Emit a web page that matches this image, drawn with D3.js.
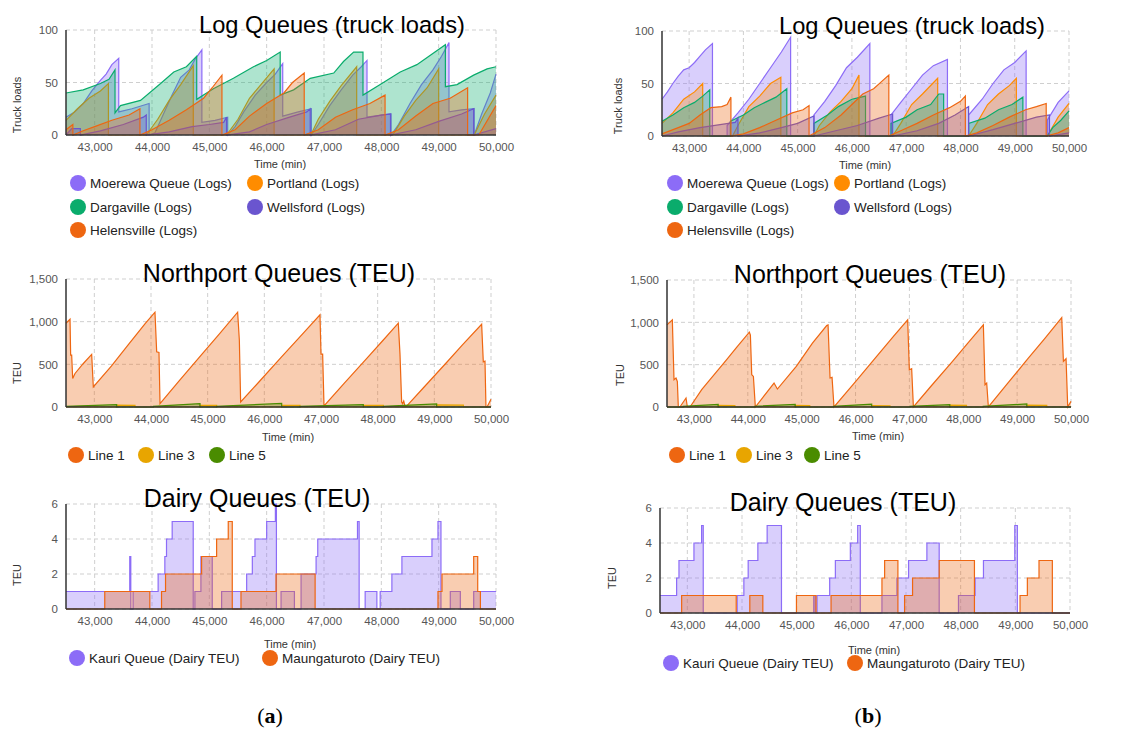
<!DOCTYPE html>
<html>
<head>
<meta charset="utf-8">
<script src="https://cdn.jsdelivr.net/npm/d3@7"></script>
<style>
  body { margin: 0; background: #fff; }
  text { font-family: "Liberation Sans", Arial, sans-serif; }
</style>
</head>
<body>
<script>
// ---- shared axis values ----
var timeTicks = [43000, 44000, 45000, 46000, 47000, 48000, 49000, 50000];
var timeDomain = [42500, 50000];
var logTicks = [0, 50, 100];
var teuTicks = [0, 500, 1000, 1500];
var dairyTicks = [0, 2, 4, 6];

var logNames = ["Moerewa Queue (Logs)", "Portland (Logs)", "Dargaville (Logs)", "Wellsford (Logs)", "Helensville (Logs)"];
var logColors = ["#8c6cf7", "#ff8c00", "#0aac6c", "#6a55cf", "#ee6611"];
var lineNames = ["Line 1", "Line 3", "Line 5"];
var lineColors = ["#ee6611", "#e8a500", "#4a8c00"];
var dairyNames = ["Kauri Queue (Dairy TEU)", "Maungaturoto (Dairy TEU)"];
var dairyColors = ["#8c6cf7", "#ee6611"];

// ---- (a) log queues ----
var moerewaA = [[42500,17],[42650,22],[42800,30],[42950,42],[43100,52],[43200,58],[43300,67],[43420,73],[43420,22],[43650,25],[43950,30],[43950,0],[44050,2],[44200,20],[44350,38],[44500,55],[44650,62],[44750,72],[44870,81],[44870,12],[45100,14],[45320,17],[45320,0],[45450,8],[45600,22],[45800,38],[46000,50],[46150,58],[46280,68],[46280,18],[46550,22],[46780,25],[46780,0],[46900,10],[47100,28],[47300,43],[47500,57],[47650,65],[47750,71],[47750,17],[48000,19],[48170,20],[48170,0],[48300,10],[48500,30],[48700,48],[48900,62],[49050,75],[49180,88],[49180,22],[49400,24],[49620,25],[49620,0],[49750,20],[49900,40],[50000,58]];
var portlandA = [[42500,14],[42700,25],[42900,35],[43100,42],[43240,49],[43240,0],[43900,0],[44100,15],[44300,33],[44500,48],[44720,66],[44720,0],[45300,0],[45500,15],[45700,35],[45900,48],[46130,63],[46130,0],[46770,0],[46900,15],[47100,32],[47300,47],[47570,65],[47570,0],[48200,0],[48400,18],[48600,33],[48800,45],[49000,63],[49000,0],[49620,0],[49800,20],[50000,38]];
var dargavilleA = [[42500,40],[42800,43],[43100,49],[43250,53],[43355,62],[43355,21],[43450,28],[43800,33],[44150,49],[44380,60],[44600,65],[44780,75],[44780,34],[45070,44],[45420,54],[45770,65],[46000,71],[46236,79],[46236,38],[46470,43],[46760,54],[47170,59],[47340,70],[47517,79],[47680,79],[47680,38],[47980,48],[48330,60],[48620,67],[48855,76],[49117,86],[49117,46],[49320,48],[49610,57],[49845,63],[50000,65]];
var wellsfordA = [[42500,0],[42600,6],[42750,6],[42750,0],[43100,4],[43500,10],[43850,17],[43900,19],[43900,0],[44300,3],[44700,8],[45000,10],[45250,12],[45300,17],[45300,0],[45700,3],[46000,10],[46400,17],[46700,22],[46760,25],[46760,0],[47200,5],[47600,15],[48000,19],[48160,20],[48160,0],[48600,5],[49000,13],[49400,20],[49610,25],[49610,0],[50000,6]];
var helensvilleA = [[42500,5],[42620,10],[42620,0],[42800,4],[43000,8],[43300,14],[43600,19],[43790,25],[43790,0],[44000,5],[44300,14],[44600,24],[44900,35],[45050,45],[45220,57],[45220,0],[45450,5],[45700,18],[46000,30],[46300,40],[46450,50],[46655,59],[46655,0],[46900,5],[47200,17],[47500,24],[47800,30],[48065,38],[48065,0],[48300,5],[48600,18],[48900,30],[49200,35],[49505,45],[49505,0],[49700,0],[50000,28]];

// ---- (b) log queues ----
var moerewaB = [[42500,35],[42600,42],[42700,50],[42800,57],[42900,63],[43000,65],[43100,70],[43200,76],[43300,82],[43430,88],[43430,0],[43700,0],[43700,10],[43900,22],[44100,35],[44300,50],[44500,65],[44700,80],[44870,94],[44870,0],[45300,0],[45300,20],[45500,33],[45700,48],[45900,65],[46100,75],[46330,88],[46330,0],[46720,0],[46720,20],[46900,32],[47100,45],[47300,58],[47500,67],[47760,73],[47760,0],[48150,0],[48150,20],[48400,35],[48600,50],[48800,63],[49000,70],[49210,81],[49210,0],[49600,0],[49600,15],[49800,32],[50000,43]];
var portlandB = [[42500,12],[42700,22],[42900,35],[43100,42],[43250,50],[43250,0],[43800,0],[43900,10],[44100,28],[44300,38],[44500,50],[44690,56],[44690,0],[45300,0],[45400,10],[45600,23],[45800,33],[46000,45],[46130,58],[46130,0],[46750,0],[46900,12],[47100,30],[47300,40],[47580,55],[47580,0],[48150,0],[48300,12],[48500,30],[48700,40],[48900,48],[49030,55],[49030,0],[49600,0],[49800,18],[50000,31]];
var dargavilleB = [[42500,14],[42700,20],[42900,27],[43100,32],[43250,38],[43380,44],[43380,0],[43760,0],[43760,14],[44000,20],[44200,27],[44400,32],[44600,37],[44800,45],[44800,0],[45300,0],[45300,12],[45550,20],[45750,28],[46000,35],[46250,38],[46250,0],[46720,0],[46720,12],[47000,18],[47200,25],[47450,30],[47600,40],[47690,40],[47690,0],[48150,0],[48150,12],[48450,17],[48700,25],[48950,30],[49150,37],[49150,0],[49600,0],[49700,8],[49850,15],[50000,24]];
var wellsfordB = [[42500,0],[42800,4],[43200,8],[43600,11],[43850,13],[43900,17],[43900,0],[44300,3],[44700,8],[45000,12],[45300,19],[45300,0],[45700,5],[46100,10],[46500,17],[46750,21],[46750,0],[47200,5],[47600,12],[47900,20],[48150,28],[48150,0],[48600,6],[49000,12],[49400,18],[49640,20],[49640,0],[50000,3]];
var helensvilleB = [[42500,2],[42800,8],[43000,12],[43200,20],[43400,27],[43600,28],[43700,30],[43770,37],[43770,0],[44000,2],[44300,8],[44600,15],[44900,22],[45100,25],[45210,29],[45210,0],[45500,8],[45800,20],[46000,30],[46200,40],[46400,45],[46550,52],[46680,58],[46680,0],[46900,5],[47200,12],[47500,20],[47800,27],[48000,33],[48090,38],[48090,0],[48300,3],[48600,10],[48900,18],[49200,25],[49400,28],[49580,31],[49580,0],[49800,3],[50000,8]];

// ---- Northport queues ----
var line1A = [[42500,982],[42571,1029],[42582,609],[42600,609],[42618,334],[42659,393],[42806,510],[42953,617],[42982,236],[43300,480],[43600,730],[43900,980],[44070,1111],[44100,648],[44141,640],[44159,39],[44500,310],[44900,620],[45200,850],[45529,1111],[45559,785],[45582,59],[45900,290],[46300,585],[46700,875],[46982,1080],[47000,620],[47029,620],[47053,12],[47400,270],[47800,565],[48100,785],[48364,982],[48394,620],[48423,59],[48440,40],[48460,70],[48480,15],[48511,10],[48800,220],[49200,510],[49500,730],[49835,970],[49864,530],[49894,538],[49911,0],[49930,0],[50000,90]];
var line3A = [[42500,0],[43394,0],[43394,22],[43718,20],[43718,0],[44865,0],[44865,20],[45159,18],[45159,0],[46306,0],[46306,20],[46629,18],[46629,0],[47747,0],[47747,20],[48100,18],[48100,0],[49041,0],[49041,25],[49512,22],[49512,0],[50000,0]];
var line5A = [[42500,8],[43394,28],[43394,0],[44041,0],[44041,8],[44865,40],[44865,0],[45159,0],[45159,8],[46306,42],[46306,0],[46629,0],[46629,8],[47747,28],[47747,0],[48100,0],[48100,8],[49041,36],[49041,0],[50000,0]];

var line1B = [[42500,970],[42599,1029],[42630,322],[42667,342],[42692,302],[42710,0],[42740,0],[42853,106],[42878,0],[42927,0],[43144,204],[43298,322],[43600,555],[43800,710],[44029,884],[44048,850],[44073,381],[44104,361],[44140,0],[44487,283],[44549,212],[44900,480],[45200,755],[45465,962],[45490,970],[45527,342],[45564,350],[45600,0],[46000,300],[46400,605],[46700,830],[46968,1029],[46999,440],[47042,452],[47074,0],[47400,245],[47800,540],[48100,765],[48373,970],[48404,263],[48435,283],[48466,0],[48800,260],[49200,570],[49500,800],[49828,1056],[49859,538],[49908,570],[49939,0],[50000,67]];
var line3B = [[42500,0],[43450,0],[43450,20],[43760,18],[43760,0],[44880,0],[44880,18],[45150,16],[45150,0],[46300,0],[46300,16],[46640,14],[46640,0],[47750,0],[47750,22],[48060,20],[48060,0],[49180,0],[49180,22],[49550,20],[49550,0],[50000,0]];
var line5B = [[42500,0],[42800,0],[42800,8],[43450,30],[43450,0],[44130,0],[44130,8],[44880,32],[44880,0],[45590,0],[45590,8],[46300,35],[46300,0],[47010,0],[47010,8],[47750,28],[47750,0],[48370,0],[48370,8],[49180,36],[49180,0],[50000,0]];

// ---- Dairy queues (step values) ----
var kauriA = [[42500,1],[43612,3],[43630,0],[43671,1],[44107,2],[44224,3],[44253,4],[44352,5],[44719,0],[44748,1],[44853,3],[45051,0],[45214,1],[45651,2],[45750,3],[45796,4],[46000,5],[46152,6],[46170,0],[46251,1],[46484,0],[46600,2],[46862,3],[46891,4],[47584,5],[47613,0],[47718,1],[47922,0],[47980,1],[48184,2],[48359,3],[48883,4],[48988,5],[49040,0],[49203,1],[49378,0],[49611,1],[50000,1]];
var maungA = [[42500,0],[43176,1],[43962,0],[44166,1],[44236,2],[44865,3],[45127,4],[45330,5],[45400,0],[45552,1],[46163,2],[46845,0],[48988,1],[49058,2],[49611,3],[49681,1],[49728,0],[50000,0]];
var kauriB = [[42500,1],[42804,2],[42847,3],[43121,4],[43261,5],[43291,0],[43912,1],[44034,2],[44113,3],[44290,4],[44460,5],[44722,0],[45312,1],[45340,0],[45373,1],[45604,2],[45708,3],[45982,4],[46116,5],[46164,0],[46560,1],[46834,2],[47047,3],[47382,4],[47607,0],[47960,1],[48264,2],[48417,3],[48990,5],[49037,0],[50000,0]];
var maungB = [[42500,0],[42896,1],[43894,0],[44143,1],[44381,0],[44996,1],[45355,0],[45629,1],[46560,2],[46609,3],[46852,0],[46974,1],[47120,2],[47607,3],[48252,0],[49086,1],[49220,2],[49433,3],[49677,0],[50000,0]];

var svg = d3.select("body").append("svg")
    .attr("width", 1137)
    .attr("height", 731);

svg.append("rect").attr("width", 1137).attr("height", 731).attr("fill", "#fff");

function panel(p) {
    var x = d3.scaleLinear().domain(timeDomain).range([p.x0, p.x1]);
    var y = d3.scaleLinear().domain([0, p.yTicks[p.yTicks.length - 1]]).range([p.y1, p.y0]);
    var g = svg.append("g");

    // dashed grid
    g.selectAll(".gx").data(timeTicks).enter().append("line")
        .attr("x1", function(d) { return x(d); }).attr("x2", function(d) { return x(d); })
        .attr("y1", p.y0).attr("y2", p.y1)
        .attr("stroke", "#cfcfcf").attr("stroke-dasharray", "4,3");
    g.selectAll(".gy").data(p.yTicks).enter().append("line")
        .attr("x1", p.x0).attr("x2", p.x1)
        .attr("y1", function(d) { return y(d); }).attr("y2", function(d) { return y(d); })
        .attr("stroke", "#cfcfcf").attr("stroke-dasharray", "4,3");

    // areas + lines
    p.series.forEach(function(s, i) {
        var area = d3.area().curve(p.curve)
            .x(function(d) { return x(d[0]); })
            .y0(y(0))
            .y1(function(d) { return y(d[1]); });
        var line = d3.line().curve(p.curve)
            .x(function(d) { return x(d[0]); })
            .y(function(d) { return y(d[1]); });
        g.append("path").datum(s).attr("d", area)
            .attr("fill", p.colors[i]).attr("fill-opacity", 0.33);
        g.append("path").datum(s).attr("d", line)
            .attr("fill", "none").attr("stroke", p.colors[i]).attr("stroke-width", 1.2);
    });

    // axes
    var xa = g.append("g").attr("transform", "translate(0," + p.y1 + ")")
        .call(d3.axisBottom(x).tickValues(timeTicks).tickFormat(d3.format(",")).tickSize(0).tickPadding(8));
    xa.select(".domain").remove();
    xa.selectAll("text").attr("fill", "#555").style("font-size", "11.5px");

    var ya = g.append("g").attr("transform", "translate(" + p.x0 + ",0)")
        .call(d3.axisLeft(y).tickValues(p.yTicks).tickFormat(d3.format(",")).tickSize(0).tickPadding(8));
    ya.select(".domain").remove();
    ya.selectAll("text").attr("fill", "#555").style("font-size", "11.5px");

    g.append("line").attr("x1", p.x0).attr("x2", p.x1).attr("y1", p.y1).attr("y2", p.y1)
        .attr("stroke", "#333").attr("stroke-width", 1.5);
    g.append("line").attr("x1", p.x0).attr("x2", p.x0).attr("y1", p.y0).attr("y2", p.y1)
        .attr("stroke", "#333").attr("stroke-width", 1.5);

    // titles
    g.append("text").attr("x", p.tx).attr("y", p.ty).attr("text-anchor", "middle")
        .style("font-size", p.tsize + "px").attr("fill", "#000").text(p.title);
    g.append("text").attr("x", p.xlx).attr("y", p.xly).attr("text-anchor", "middle")
        .style("font-size", "11px").attr("fill", "#333").text("Time (min)");
    g.append("text").attr("transform", "translate(" + p.ylx + "," + p.yly + ") rotate(-90)")
        .attr("text-anchor", "middle").attr("dy", "0.35em")
        .style("font-size", "11px").attr("fill", "#333").text(p.yLabel);

    // legend
    p.names.forEach(function(n, i) {
        var cx = p.legX[i], cy = p.legY[i];
        g.append("circle").attr("cx", cx).attr("cy", cy).attr("r", 8).attr("fill", p.colors[i]);
        g.append("text").attr("x", cx + 12).attr("y", cy + 5)
            .style("font-size", "13.5px").attr("fill", "#222").text(n);
    });
}

var lin = d3.curveLinear, step = d3.curveStepAfter;

// left column (a)
panel({x0: 66, x1: 496, y0: 30, y1: 135, yTicks: logTicks, curve: lin,
    series: [moerewaA, portlandA, dargavilleA, wellsfordA, helensvilleA],
    names: logNames, colors: logColors,
    legX: [78, 255, 78, 255, 78], legY: [183, 183, 207, 207, 230],
    title: "Log Queues (truck loads)", tx: 332, ty: 33, tsize: 23.7,
    yLabel: "Truck loads", ylx: 17, yly: 105, xlx: 280, xly: 168});
panel({x0: 66, x1: 491, y0: 279, y1: 407, yTicks: teuTicks, curve: lin,
    series: [line1A, line3A, line5A],
    names: lineNames, colors: lineColors,
    legX: [76, 146, 217], legY: [455, 455, 455],
    title: "Northport Queues (TEU)", tx: 279, ty: 282, tsize: 25,
    yLabel: "TEU", ylx: 17, yly: 373, xlx: 288, xly: 441});
panel({x0: 66, x1: 496, y0: 504, y1: 609, yTicks: dairyTicks, curve: step,
    series: [kauriA, maungA],
    names: dairyNames, colors: dairyColors,
    legX: [77, 270], legY: [658, 658],
    title: "Dairy Queues (TEU)", tx: 257, ty: 507, tsize: 25,
    yLabel: "TEU", ylx: 17, yly: 575, xlx: 290, xly: 648});

// right column (b)
panel({x0: 662, x1: 1069, y0: 31, y1: 136, yTicks: logTicks, curve: lin,
    series: [moerewaB, portlandB, dargavilleB, wellsfordB, helensvilleB],
    names: logNames, colors: logColors,
    legX: [675, 842, 675, 842, 675], legY: [183, 183, 207, 207, 230],
    title: "Log Queues (truck loads)", tx: 912, ty: 34, tsize: 23.7,
    yLabel: "Truck loads", ylx: 618, yly: 106, xlx: 865, xly: 169});
panel({x0: 667, x1: 1071, y0: 280, y1: 407, yTicks: teuTicks, curve: lin,
    series: [line1B, line3B, line5B],
    names: lineNames, colors: lineColors,
    legX: [677, 744, 812], legY: [455, 455, 455],
    title: "Northport Queues (TEU)", tx: 870, ty: 283, tsize: 25,
    yLabel: "TEU", ylx: 620, yly: 375, xlx: 878, xly: 440});
panel({x0: 660, x1: 1070, y0: 508, y1: 613, yTicks: dairyTicks, curve: step,
    series: [kauriB, maungB],
    names: dairyNames, colors: dairyColors,
    legX: [671, 855], legY: [663, 663],
    title: "Dairy Queues (TEU)", tx: 843, ty: 511, tsize: 25,
    yLabel: "TEU", ylx: 612, yly: 578, xlx: 874, xly: 654});

// sub-figure labels
[["a", 270], ["b", 868]].forEach(function(l) {
    var t = svg.append("text").attr("x", l[1]).attr("y", 723).attr("text-anchor", "middle")
        .style("font-family", "'Liberation Serif', 'Times New Roman', serif").style("font-size", "22px")
        .attr("fill", "#000");
    t.append("tspan").text("(");
    t.append("tspan").style("font-weight", "bold").text(l[0]);
    t.append("tspan").text(")");
});
</script>
</body>
</html>
